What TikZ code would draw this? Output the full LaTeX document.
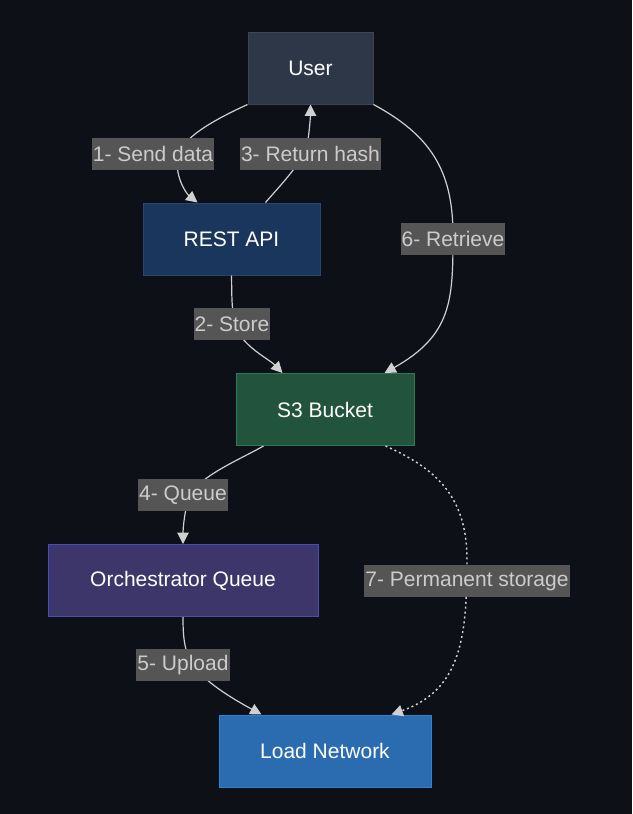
\documentclass[tikz,border=0pt]{standalone}
\usepackage{fontspec}
\setmainfont{Liberation Sans}
\usetikzlibrary{positioning,calc,arrows.meta}

\definecolor{bgdark}{HTML}{0D1017}
\definecolor{usercol}{HTML}{2D3748}
\definecolor{userline}{HTML}{3B4556}
\definecolor{restcol}{HTML}{1A365D}
\definecolor{restline}{HTML}{2A4670}
\definecolor{bucketcol}{HTML}{22543D}
\definecolor{bucketline}{HTML}{2F7A50}
\definecolor{queuecol}{HTML}{3C366B}
\definecolor{queueline}{HTML}{4C4CB8}
\definecolor{loadcol}{HTML}{2B6CB0}
\definecolor{loadline}{HTML}{3182CE}
\definecolor{edgegray}{HTML}{D0D0D0}
\definecolor{lblgray}{HTML}{555555}
\definecolor{lbltext}{HTML}{CCCCCC}

\begin{document}
\begin{tikzpicture}[x=0.75pt,y=-0.75pt,
    box/.style={draw, line width=0.75pt, text=white, font=\fontsize{15.75}{19}\selectfont, inner sep=0pt, minimum height=54pt},
    link/.style={draw=edgegray, line width=0.9pt, -{Triangle[length=8.5pt,width=8.5pt]}},
    lbl/.style={fill=lblgray, text=lbltext, font=\fontsize{15.75}{19}\selectfont, inner xsep=0.75pt, inner ysep=0pt, minimum height=24pt}]
    \fill[bgdark] (0,0) rectangle (632,814);

    % Nodes
    \node[box, fill=usercol, draw=userline, minimum width=93.75pt] (user) at (310.5,68) {User};
    \node[box, fill=restcol, draw=restline, minimum width=132.75pt] (rest) at (231.5,239) {REST API};
    \node[box, fill=bucketcol, draw=bucketline, minimum width=133.5pt] (bucket) at (325,409.5) {S3 Bucket};
    \node[box, fill=queuecol, draw=queueline, minimum width=202.5pt] (queue) at (183,580.5) {Orchestrator Queue};
    \node[box, fill=loadcol, draw=loadline, minimum width=159pt] (load) at (325,751) {Load Network};

    % Arrows
    \draw[link] (user.south west) .. controls (205,124) and (177,142) .. (177,162)
        .. controls (177,182) and (188,195) .. ($(rest.north west)+(55,0)$);
    \draw[link] ($(rest.north west)+(123,0)$) .. controls (285,180) and (305,160) .. (308,140)
        .. controls (310,125) and (310.5,115) .. (user.south);
    \draw[link] (user.south east) .. controls (430,135) and (453,170) .. (453,235)
        .. controls (453,300) and (452,335) .. ($(bucket.north west)+(149,0)$);
    \draw[link] (rest.south) .. controls (232,300) and (231,320) .. (240,335)
        .. controls (250,350) and (270,360) .. ($(bucket.north west)+(47,0)$);
    \draw[link] ($(bucket.south west)+(28,0)$) .. controls (235,462) and (195,478) .. (188,500)
        .. controls (184,515) and (183,530) .. (queue.north);
    \draw[link] (queue.south) .. controls (183,635) and (184,648) .. (190,660)
        .. controls (200,680) and (235,700) .. ($(load.north west)+(43,0)$);
    \draw[link, line width=1.1pt, dash pattern=on 1.5pt off 2.2pt] ($(bucket.south west)+(150,0)$) .. controls (440,470) and (467,500) .. (467,560)
        .. controls (467,640) and (460,690) .. ($(load.north west)+(173,0)$);

    % Labels
    \node[lbl] (send) at (153,154) {1- Send data};
    \node[lbl] (hash) at (310.5,154) {3- Return hash};
    \node[lbl] (retrieve) at (453,239) {6- Retrieve};
    \node[lbl] (store) at (232,324) {2- Store};
    \node[lbl] (enqueue) at (183,495) {4- Queue};
    \node[lbl] (upload) at (183,665) {5- Upload};
    \node[lbl] (storage) at (467,581) {7- Permanent storage};
\end{tikzpicture}
\end{document}
